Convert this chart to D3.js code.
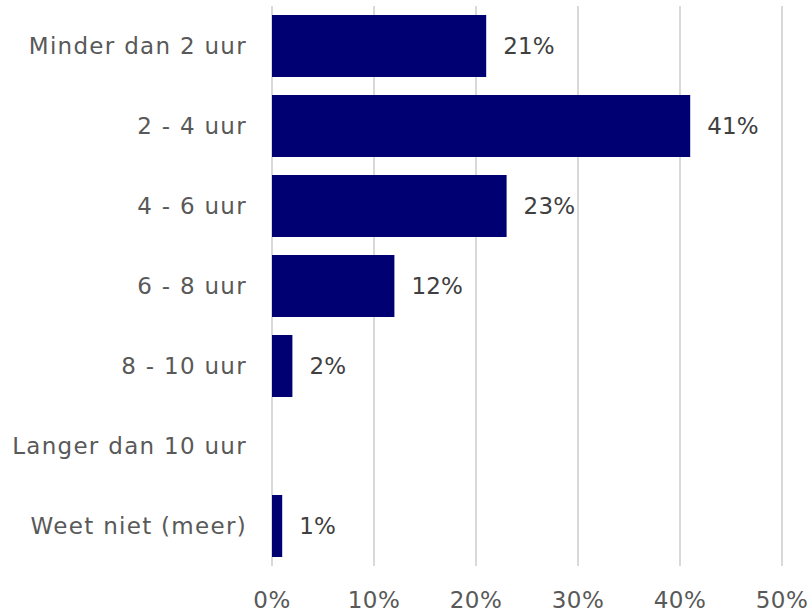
<!DOCTYPE html>
<html><head><meta charset="utf-8">
<script src="https://cdn.jsdelivr.net/npm/d3@7"></script>
<style>body{margin:0;background:#fff}svg{display:block}text{font-family:"DejaVu Sans",sans-serif}</style>
</head><body><div id="chart"></div>
<script>
const categories = ["Minder dan 2 uur","2 - 4 uur","4 - 6 uur","6 - 8 uur","8 - 10 uur","Langer dan 10 uur","Weet niet (meer)"];
const values = [21, 41, 23, 12, 2, 0, 1];
const xTicks = [0, 10, 20, 30, 40, 50];

const W = 810, H = 613;
const m = {left: 272, right: 28, top: 6, bottom: 47};
const svg = d3.select("#chart").append("svg").attr("width", W).attr("height", H);
const x = d3.scaleLinear().domain([0, 50]).range([m.left, W - m.right]);
const y = d3.scaleBand().domain(categories).range([m.top, H - m.bottom]).paddingInner(0.225).paddingOuter(0.1125);

svg.append("g").selectAll("line").data(xTicks).join("line")
  .attr("x1", d => x(d)).attr("x2", d => x(d))
  .attr("y1", m.top).attr("y2", H - m.bottom)
  .attr("stroke", "#d9d9d9").attr("stroke-width", 2);

const fs = 23;
svg.append("g").selectAll("text").data(xTicks).join("text")
  .attr("x", d => x(d)).attr("y", 608)
  .attr("text-anchor", "middle").attr("fill", "#595959")
  .attr("font-size", fs).attr("letter-spacing", 0.4).text(d => d + "%");

svg.append("g").selectAll("text").data(categories).join("text")
  .attr("x", m.left - 25).attr("y", d => y(d) + y.bandwidth() / 2)
  .attr("dy", "0.35em").attr("text-anchor", "end").attr("fill", "#595959")
  .attr("font-size", fs).attr("letter-spacing", 1.3).text(d => d);

const data = categories.map((c, i) => ({c, v: values[i]}));
svg.append("g").selectAll("rect").data(data.filter(d => d.v > 0)).join("rect")
  .attr("x", x(0)).attr("y", d => y(d.c))
  .attr("width", d => x(d.v) - x(0)).attr("height", y.bandwidth())
  .attr("fill", "#000073");

svg.append("g").selectAll("text").data(data.filter(d => d.v > 0)).join("text")
  .attr("x", d => x(d.v) + 17).attr("y", d => y(d.c) + y.bandwidth() / 2)
  .attr("dy", "0.35em").attr("fill", "#404040")
  .attr("font-size", fs).attr("letter-spacing", 0.2).text(d => d.v + "%");
</script></body></html>
